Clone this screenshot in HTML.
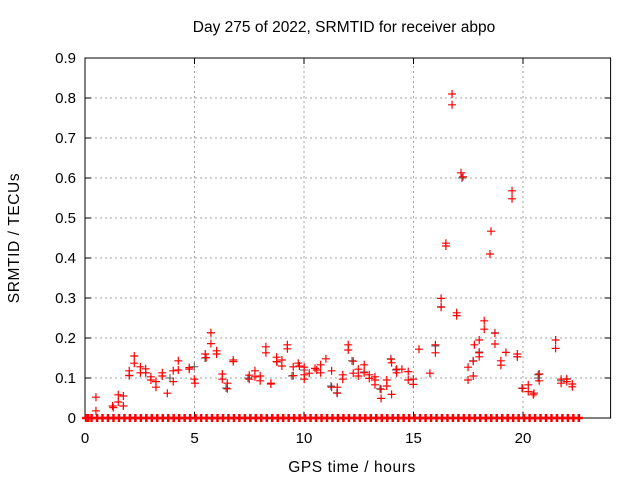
<!DOCTYPE html>
<html><head><meta charset="utf-8"><style>
body{margin:0;background:#fff}
svg{display:block;font-family:"Liberation Sans",sans-serif}
</style></head><body>
<svg id="chart" width="640" height="480">
<text x="344" y="32" font-size="15.5" text-anchor="middle">Day 275 of 2022, SRMTID for receiver abpo</text>
<text x="352" y="472" font-size="15.5" letter-spacing="0.6" text-anchor="middle">GPS time / hours</text>
<text transform="translate(19,238) rotate(-90)" font-size="15.5" letter-spacing="0.6" text-anchor="middle">SRMTID / TECUs</text>
<g id="grid"></g><g id="axes"></g><g id="marks"></g>
</svg>
<script>
const xTicks=[0,5,10,15,20];
const yTicks=[0,0.1,0.2,0.3,0.4,0.5,0.6,0.7,0.8,0.9];
const yTickLabels=["0","0.1","0.2","0.3","0.4","0.5","0.6","0.7","0.8","0.9"];
const redHours=[0.5,0.5,1.26,1.29,1.52,1.52,1.75,1.75,2.02,2.02,2.25,2.25,2.53,2.53,2.77,2.77,3.01,3.01,3.24,3.24,3.53,3.53,3.76,4.03,4.03,4.26,4.26,4.76,4.76,4.99,5.02,5.49,5.53,5.75,5.75,6.01,6.01,6.27,6.27,6.5,6.5,6.77,6.77,7.5,7.5,7.76,7.76,8.0,8.0,8.49,8.49,8.26,8.26,8.75,8.75,8.99,8.99,9.24,9.24,9.51,9.51,9.74,9.79,10.01,10.01,10.01,10.24,10.5,10.58,10.76,10.76,11.0,11.26,11.26,11.52,11.52,11.77,11.77,12.02,12.02,12.25,12.25,12.48,12.48,12.75,12.75,12.98,12.98,13.24,13.24,13.24,13.52,13.52,13.78,13.78,13.97,14.0,14.0,14.23,14.23,14.47,14.76,14.76,14.99,14.99,15.25,15.75,16.0,16.0,16.26,16.26,16.48,16.48,16.76,16.76,16.97,16.97,17.17,17.26,17.49,17.49,17.73,17.73,17.78,18.0,18.0,18.0,18.23,18.23,18.49,18.54,18.72,18.72,18.99,18.99,19.22,19.5,19.5,19.74,19.74,19.99,20.24,20.24,20.47,20.5,20.74,20.74,21.49,21.49,21.74,21.74,22.0,22.0,22.25,22.25];
const redValues=[0.052,0.018,0.030,0.026,0.058,0.040,0.055,0.030,0.118,0.106,0.155,0.137,0.128,0.113,0.123,0.113,0.103,0.095,0.091,0.077,0.113,0.105,0.062,0.118,0.091,0.143,0.120,0.126,0.122,0.097,0.087,0.160,0.151,0.213,0.186,0.168,0.160,0.110,0.097,0.087,0.073,0.145,0.141,0.107,0.097,0.118,0.103,0.105,0.093,0.087,0.085,0.178,0.163,0.152,0.141,0.145,0.130,0.183,0.173,0.128,0.106,0.137,0.130,0.127,0.108,0.097,0.112,0.124,0.120,0.133,0.113,0.148,0.118,0.077,0.077,0.062,0.108,0.097,0.183,0.170,0.142,0.112,0.122,0.105,0.133,0.113,0.108,0.099,0.103,0.095,0.083,0.072,0.049,0.095,0.080,0.147,0.138,0.059,0.122,0.113,0.122,0.116,0.095,0.097,0.084,0.172,0.112,0.183,0.163,0.299,0.277,0.437,0.430,0.810,0.783,0.263,0.256,0.613,0.603,0.127,0.095,0.142,0.105,0.183,0.195,0.163,0.153,0.243,0.222,0.410,0.467,0.212,0.185,0.143,0.132,0.164,0.568,0.548,0.160,0.153,0.074,0.083,0.066,0.058,0.062,0.110,0.093,0.195,0.174,0.097,0.087,0.097,0.091,0.085,0.078];
const blackHours=[2.02,2.77,3.88,4.99,5.48,5.75,6.44,7.44,8.77,9.45,10.0,11.23,11.5,12.19,12.74,13.47,13.97,14.2,16.0,16.26,17.21,17.72,18.0,18.72,19.74,19.95,20.69,20.69,21.74,22.0];
const blackValues=[0.107,0.113,0.100,0.128,0.150,0.213,0.075,0.100,0.140,0.105,0.120,0.080,0.063,0.143,0.115,0.073,0.148,0.120,0.180,0.278,0.600,0.143,0.165,0.213,0.153,0.075,0.100,0.108,0.093,0.098];
const zeroHours=[0.05,0.15,0.3,0.55,0.8,1.05,1.3,1.55,1.8,2.05,2.3,2.55,2.8,3.05,3.3,3.55,3.8,4.05,4.3,4.55,4.8,5.05,5.3,5.55,5.8,6.05,6.3,6.55,6.8,7.05,7.3,7.55,7.8,8.05,8.3,8.55,8.8,9.05,9.3,9.55,9.8,10.05,10.3,10.55,10.8,11.05,11.3,11.55,11.8,12.05,12.3,12.55,12.8,13.05,13.3,13.55,13.8,14.05,14.3,14.55,14.8,15.05,15.3,15.55,15.8,16.05,16.3,16.55,16.8,17.05,17.3,17.55,17.8,18.05,18.3,18.55,18.8,19.05,19.3,19.55,19.8,20.05,20.3,20.55,20.8,21.05,21.3,21.55,21.8,22.05,22.3,22.55];
const zeroValues=zeroHours.map(()=>0);

const X0=85,X1=610.6,XMAX=24,Y0=418,Y1=58,YMAX=0.9;
const sx=h=>X0+(X1-X0)*h/XMAX;
const sy=v=>Y0-(Y0-Y1)*v/YMAX;
const NS="http://www.w3.org/2000/svg";
function mk(tag,attrs,parent){const e=document.createElementNS(NS,tag);for(const k in attrs)e.setAttribute(k,attrs[k]);parent.appendChild(e);return e;}
const grid=document.getElementById('grid'),axes=document.getElementById('axes'),marks=document.getElementById('marks');
yTicks.forEach((t,i)=>{
  const y=sy(t);
  if(t>0&&t<YMAX){const g=mk('line',{x1:X0,x2:X1,y1:y,y2:y,stroke:'#a0a0a0','stroke-dasharray':'2,3'},grid);
  
  }
  mk('line',{x1:X0,x2:X0+6,y1:y,y2:y,stroke:'#000'},axes);
  mk('line',{x1:X1,x2:X1-6,y1:y,y2:y,stroke:'#000'},axes);
  const tx=mk('text',{x:X0-9,y:y+5,'font-size':15,'text-anchor':'end'},axes);
  tx.textContent=yTickLabels[i];
  
  
});
xTicks.forEach(t=>{
  const x=sx(t);
  if(t>0){const g=mk('line',{x1:x,x2:x,y1:Y0,y2:Y1,stroke:'#a0a0a0','stroke-dasharray':'2,3'},grid);
  
  }
  mk('line',{x1:x,x2:x,y1:Y0,y2:Y0-6,stroke:'#000'},axes);
  mk('line',{x1:x,x2:x,y1:Y1,y2:Y1+6,stroke:'#000'},axes);
  const tx=mk('text',{x:x,y:Y0+25,'font-size':15,'text-anchor':'middle'},axes);
  tx.textContent=String(t);
  
  
});
const box=mk('rect',{x:X0,y:Y1,width:X1-X0,height:Y0-Y1,fill:'none',stroke:'#000','stroke-width':1},axes);


function plus(h,v,color,w,name){
  const x=sx(h),y=sy(v);
  const p=mk('path',{d:`M${x-4},${y}H${x+4}M${x},${y-4}V${y+4}`,stroke:color,'stroke-width':w,fill:'none'},marks);
  
  
}
blackHours.forEach((h,i)=>plus(h,blackValues[i],'#555',1,'black-point'));
redHours.forEach((h,i)=>plus(h,redValues[i],'#ff0000',1.2,'red-point'));
zeroHours.forEach((h,i)=>plus(h,zeroValues[i],'#ff0000',2.5,'zero-point'));
</script>
</body></html>
